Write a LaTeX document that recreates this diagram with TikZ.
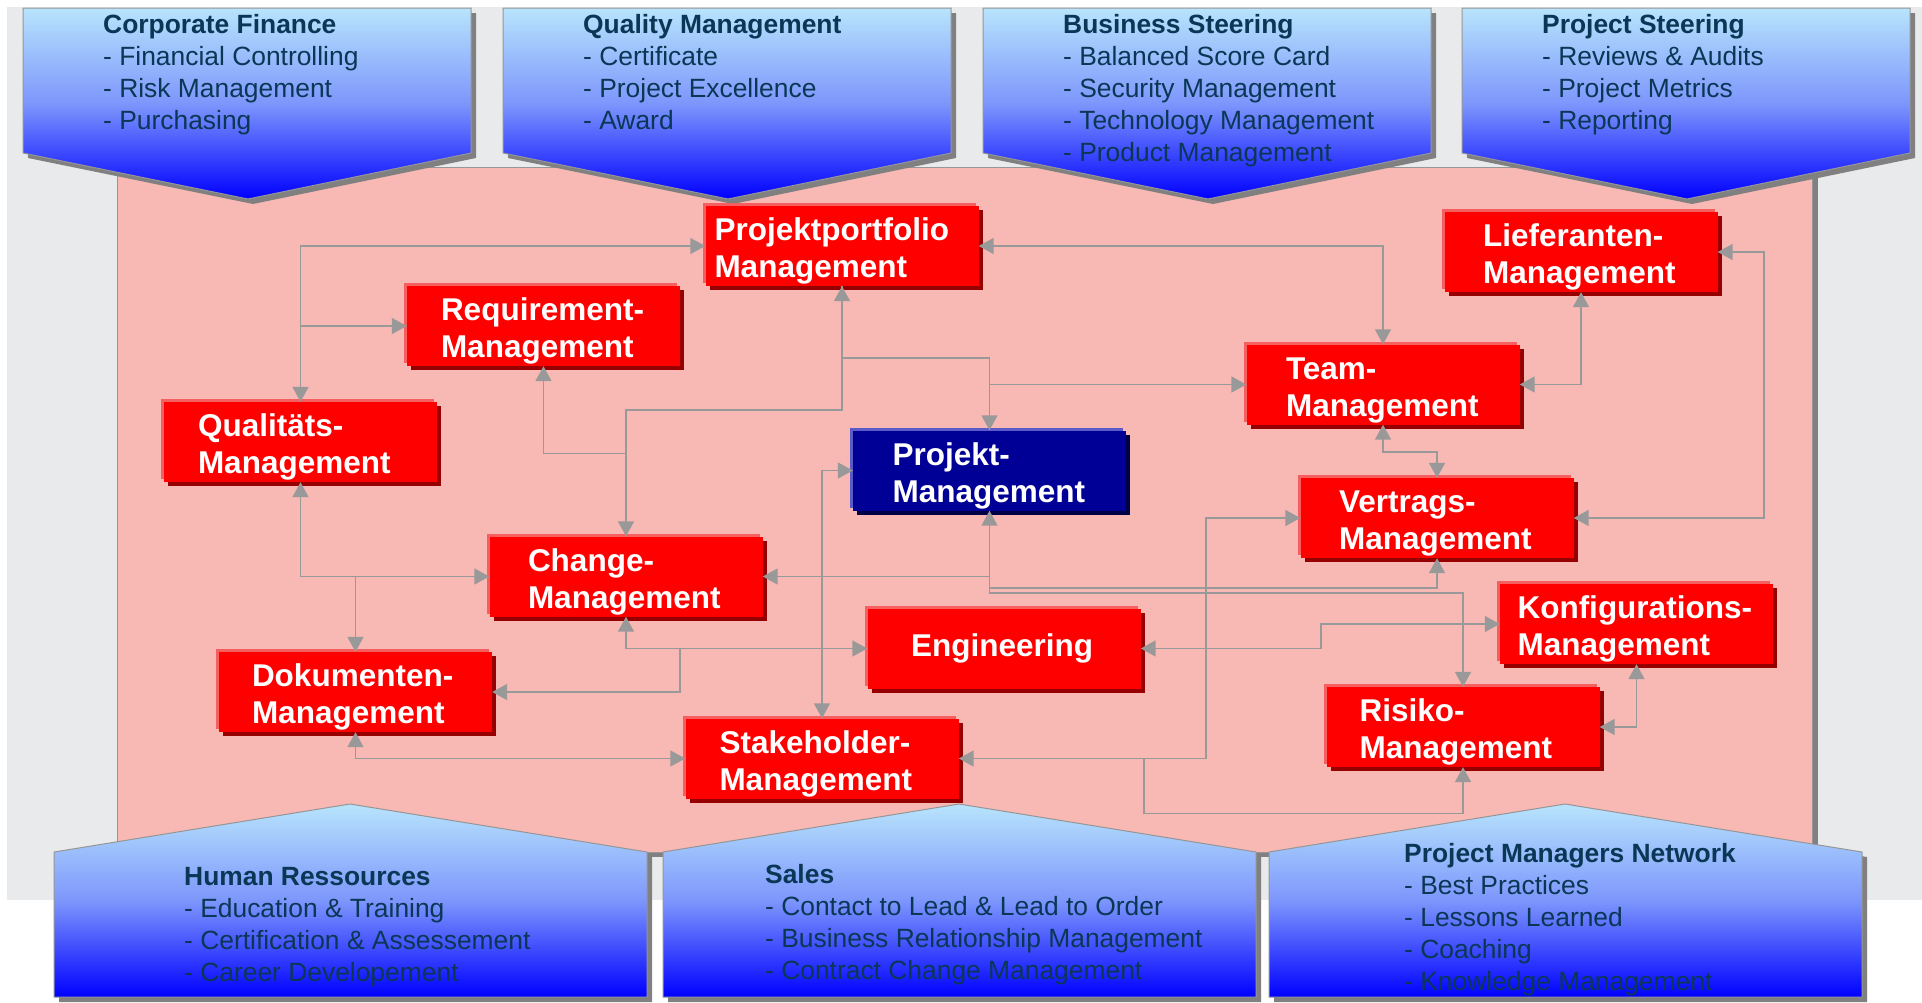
\documentclass[tikz,border=0pt]{standalone}
\usepackage{fontspec}
\setmainfont{Liberation Sans}
\usepackage{xcolor}
\usepackage{tikz}
\usetikzlibrary{arrows.meta}
\usetikzlibrary{shadows}

\definecolor{fondgris}{RGB}{233,234,236}
\definecolor{fondrose}{RGB}{248,184,180}
\definecolor{bordgris}{RGB}{150,150,150}
\definecolor{ombregris}{RGB}{128,128,128}
\definecolor{bleuclair}{RGB}{184,228,252}
\definecolor{bleumoyen}{RGB}{125,150,252}
\definecolor{bleuvif}{RGB}{0,0,255}
\definecolor{textebleu}{RGB}{10,55,85}
\definecolor{rougevif}{RGB}{255,0,0}
\definecolor{rougeclair}{RGB}{245,95,95}
\definecolor{rougefonce}{RGB}{150,0,0}
\definecolor{marine}{RGB}{0,0,150}
\definecolor{marineclair}{RGB}{90,90,200}
\definecolor{marinefonce}{RGB}{0,0,70}
\definecolor{gristrait}{RGB}{153,153,153}

\begin{document}
\begin{tikzpicture}[x=1pt,y=-1pt]
% définition des paramètres
\newcommand{\largboite}{273pt} % largeur des boîtes
\newcommand{\hautboite}{80pt}  % hauteur des boîtes
\tikzstyle boitepm=[rectangle, minimum width=\largboite, minimum height=\hautboite, inner xsep=0pt, inner ysep=0pt, text width=205pt, align=left, text=white, font=\fontsize{31.5}{37}\selectfont\bfseries]
\tikzstyle fondrougepm=[fill=rougevif, general shadow={fill=rougeclair, shadow xshift=-3pt, shadow yshift=3pt}, general shadow={fill=rougefonce, shadow xshift=4pt, shadow yshift=-4pt}]
\tikzstyle rougepm=[fondrougepm, boitepm, execute at begin node={\rule{0pt}{33pt}}]
\tikzstyle bleupm=[boitepm, execute at begin node={\rule{0pt}{33pt}}, fill=marine, general shadow={fill=marineclair, shadow xshift=-3pt, shadow yshift=3pt}, general shadow={fill=marinefonce, shadow xshift=4pt, shadow yshift=-4pt}]
\tikzstyle lienpm=[draw=gristrait, line width=1.6pt, >={Triangle[length=15pt,width=16pt]}]
\tikzstyle fleuvepm=[top color=bleuclair, bottom color=bleuvif, middle color=bleumoyen, draw=bordgris, line width=1pt]
\tikzstyle textepm=[anchor=north west, inner sep=0pt, align=left, text=textebleu, font=\fontsize{26.4}{32}\selectfont]

\useasboundingbox (0,0) rectangle (1922,1002);
% le fond
\fill[fondgris] (7,7) rectangle (1922,900);
\fill[ombregris] (123,173) rectangle (1818,857);
\filldraw[fill=fondrose, draw=bordgris, line width=1pt] (117,167) rectangle (1812,852);

% les flèches du haut
\foreach \x in {23,503,983,1462}
{
    \fill[shift={(\x,0)},ombregris] (5,13) -- (453,13) -- (453,158) -- (230,204) -- (5,158) -- cycle;
    \shadedraw[shift={(\x,0)},fleuvepm] (0,8) -- (448,8) -- (448,153) -- (225,199) -- (0,153) -- cycle;
}
% les maisons du bas
\foreach \x in {54,663,1269}
{
    \fill[shift={(\x,0)},ombregris] (5,857) -- (301,809) -- (598,857) -- (598,1002) -- (5,1002) -- cycle;
    \shadedraw[shift={(\x,0)},fleuvepm] (0,852) -- (296,804) -- (593,852) -- (593,997) -- (0,997) -- cycle;
}

% les textes
\node[textepm] (tcf) at (103,14) {\textbf{Corporate Finance}\\- Financial Controlling\\- Risk Management\\- Purchasing};
\node[textepm] (tqm) at (583,14) {\textbf{Quality Management}\\- Certificate\\- Project Excellence\\- Award};
\node[textepm] (tbs) at (1063,14) {\textbf{Business Steering}\\- Balanced Score Card\\- Security Management\\- Technology Management\\- Product Management};
\node[textepm] (tps) at (1542,14) {\textbf{Project Steering}\\- Reviews \& Audits\\- Project Metrics\\- Reporting};
\node[textepm] (thr) at (184,867) {\textbf{Human Ressources}\\- Education \& Training\\- Certification \& Assessement\\- Career Developement};
\node[textepm] (tsa) at (765,864) {\textbf{Sales}\\- Contact to Lead \& Lead to Order\\- Business Relationship Management\\- Contract Change Management};
\node[textepm] (tpn) at (1404,843) {\textbf{Project Managers Network}\\- Best Practices\\- Lessons Learned\\- Coaching\\- Knowledge Management};

% les boîtes
\node[rougepm, text width=255pt] (portfolio) at (842,246) {Projektportfolio\\Management};
\node[rougepm] (req) at (543.5,326) {Requirement-\\Management};
\node[rougepm] (qual) at (300.5,442) {Qualitäts-\\Management};
\node[bleupm, text width=194pt] (pm) at (989.5,470.5) {Projekt-\\Management};
\node[rougepm, text width=194pt] (team) at (1383,384.5) {Team-\\Management};
\node[rougepm, text width=196pt] (liefer) at (1581,252) {Lieferanten-\\Management};
\node[rougepm, text width=196pt] (vertrag) at (1437,518) {Vertrags-\\Management};
\node[rougepm, text width=196pt] (change) at (626,576.5) {Change-\\Management};
\node[rougepm, text width=207pt] (doc) at (355.5,692) {Dokumenten-\\Management};
\node[fondrougepm, boitepm, text width=186pt] (eng) at (1004,648.5) {Engineering};
\node[rougepm] (stake) at (822,758.5) {Stakeholder-\\Management};
\node[rougepm, text width=238pt] (konfig) at (1636.5,624) {Konfigurations-\\Management};
\node[rougepm, text width=207pt] (risiko) at (1463,727) {Risiko-\\Management};

% les liens
\path (change.north) ++(0,-83) coordinate (kreq);
\path (change.south |- eng.west) ++(54,0) coordinate (kdoc);
\draw[lienpm,<->] (qual.north) |- (portfolio.west);
\draw[lienpm,->] (qual.north |- req.west) -- (req.west);
\draw[lienpm,<->] (portfolio.south) -- ++(0,124) -| (change.north);
\draw[lienpm,->] (portfolio.south) -- ++(0,72) -| (pm.north);
\draw[lienpm,->] (pm.north |- team.west) -- (team.west);
\draw[lienpm,->] (kreq) -| (req.south);
\draw[lienpm,<->] (qual.south) |- (change.west);
\draw[lienpm,->] (qual.south |- change.west) -| (doc.north);
\draw[lienpm,<->] (change.south) |- (eng.west);
\draw[lienpm,->] (kdoc) |- (doc.east);
\draw[lienpm,<->] (doc.south) |- (stake.west);
\draw[lienpm,<->] (pm.west) -| (stake.north);
\draw[lienpm,<->] (pm.south) |- (change.east);
\draw[lienpm,->] (pm.south) -- ++(0,77) -| (vertrag.south);
\draw[lienpm,->] (pm.south) -- ++(0,82) -| (risiko.north);
\draw[lienpm,<->] (stake.east) -- ++(247,0) |- (vertrag.west);
\draw[lienpm,->] (stake.east) -- ++(185,0) -- ++(0,55) -| (risiko.south);
\draw[lienpm,<->] (eng.east) -- ++(180,0) |- (konfig.west);
\draw[lienpm,<->] (konfig.south) |- (risiko.east);
\draw[lienpm,<->] (portfolio.east) -| (team.north);
\draw[lienpm,<->] (liefer.south) |- (team.east);
\draw[lienpm,<->] (liefer.east) -- ++(46,0) |- (vertrag.east);
\draw[lienpm,<->] (team.south) -- ++(0,27) -| (vertrag.north);
\end{tikzpicture}
\end{document}
